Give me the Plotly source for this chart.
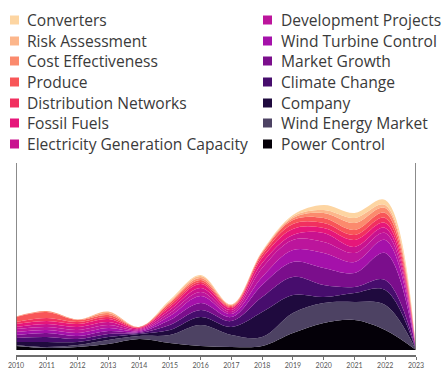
import plotly.graph_objects as go

# Years on the x axis
years = list(range(2010, 2024))

# Series listed from the bottom of the stack to the top
series_names = [
    "Power Control",
    "Wind Energy Market",
    "Company",
    "Climate Change",
    "Market Growth",
    "Wind Turbine Control",
    "Development Projects",
    "Electricity Generation Capacity",
    "Fossil Fuels",
    "Distribution Networks",
    "Produce",
    "Cost Effectiveness",
    "Risk Assessment",
    "Converters",
]

power_control = [4, 2, 3, 6, 11, 7, 4, 3, 4, 17, 27, 30, 20, 0]
wind_energy_market = [1, 1, 2, 4, 3, 8, 21, 12, 9, 20, 20, 18, 25, 0]
company = [3, 5, 3, 3, 2, 5, 8, 8, 25, 18, 6, 9, 15, 0]
climate_change = [4, 5, 3, 3, 1, 5, 7, 6, 15, 18, 12, 6, 10, 0]
market_growth = [3, 4, 3, 3, 1, 5, 7, 4, 12, 15, 17, 14, 27, 0]
wind_turbine_control = [3, 3, 3, 3, 1, 4, 7, 3, 8, 12, 15, 11, 13, 0]
development_projects = [3, 3, 3, 3, 1, 3, 4, 2, 9, 10, 11, 9, 7, 0]
electricity_generation_capacity = [2, 3, 3, 3, 1, 3, 4, 2, 5, 5, 9, 6, 5, 0]
fossil_fuels = [3, 3, 3, 3, 1, 3, 4, 2, 5, 6, 5, 7, 5, 0]
distribution_networks = [2, 3, 2, 2, 0.5, 2, 2, 1, 3, 5, 5, 5, 5, 0]
produce = [5, 6, 2, 2, 0.5, 2, 2, 1, 2, 4, 5, 5, 5, 0]
cost_effectiveness = [0.5, 1, 0.5, 2, 0, 1, 2, 1, 1, 2, 5, 7, 5, 0]
risk_assessment = [0, 0, 0, 1.5, 0, 1, 2, 0.5, 0.5, 1.5, 3, 5, 3, 0]
converters = [0, 0, 0, 0, 0, 1, 1, 0, 0.5, 1.5, 5, 5, 5, 0]

series_values = [
    power_control,
    wind_energy_market,
    company,
    climate_change,
    market_growth,
    wind_turbine_control,
    development_projects,
    electricity_generation_capacity,
    fossil_fuels,
    distribution_networks,
    produce,
    cost_effectiveness,
    risk_assessment,
    converters,
]

series_colors = [
    "#040008",
    "#4d4263",
    "#1f0a3e",
    "#470d6d",
    "#7b0e8c",
    "#a511aa",
    "#bc159c",
    "#c9128f",
    "#e6167a",
    "#f1305f",
    "#f85658",
    "#fb8a6d",
    "#fcb68b",
    "#fdd5a2",
]

# Legend columns (top to bottom)
left_column = [
    "Converters",
    "Risk Assessment",
    "Cost Effectiveness",
    "Produce",
    "Distribution Networks",
    "Fossil Fuels",
    "Electricity Generation Capacity",
]
right_column = [
    "Development Projects",
    "Wind Turbine Control",
    "Market Growth",
    "Climate Change",
    "Company",
    "Wind Energy Market",
    "Power Control",
]

color_of = dict(zip(series_names, series_colors))

W, H = 442, 369
M_L, M_R, M_T, M_B = 16, 26, 163, 14
plot_w = W - M_L - M_R
plot_h = H - M_T - M_B


def px_to_paper_x(px):
    return (px - M_L) / plot_w


def px_to_paper_y(py):
    return (H - M_B - py) / plot_h


fig = go.Figure()

for name, vals, col in zip(series_names, series_values, series_colors):
    fig.add_trace(
        go.Scatter(
            x=years,
            y=vals,
            name=name,
            mode="lines",
            stackgroup="all",
            line=dict(width=0, shape="spline", smoothing=1.0, color=col),
            fillcolor=col,
            showlegend=False,
            hoverinfo="x+y+name",
        )
    )

y_top = 187
axis_color = "#6e6e6e"

shapes = []
annotations = []

# Side axis lines with outward end ticks
for xv, direction in [(years[0], -1), (years[-1], 1)]:
    shapes.append(dict(type="line", xref="x", yref="y", x0=xv, x1=xv, y0=0, y1=y_top,
                       line=dict(color=axis_color, width=1.6)))
    for yv in (0, y_top):
        shapes.append(dict(type="line", xref="x", yref="y", xsizemode="pixel", xanchor=xv,
                           x0=0, x1=5 * direction, y0=yv, y1=yv,
                           line=dict(color=axis_color, width=1.6)))

# Two-column legend: coloured squares with labels
row_centers = [20, 41, 61, 82, 103, 123, 144]
legend_font = dict(family="'Open Sans', sans-serif", size=15.6, color="#3a3a3a")
for column, sq_left, text_left in [(left_column, 10, 27), (right_column, 263, 281)]:
    for name, cy in zip(column, row_centers):
        shapes.append(dict(
            type="rect", xref="paper", yref="paper",
            x0=px_to_paper_x(sq_left), x1=px_to_paper_x(sq_left + 9),
            y0=px_to_paper_y(cy + 4.5), y1=px_to_paper_y(cy - 4.5),
            fillcolor=color_of[name], line=dict(width=0),
        ))
        annotations.append(dict(
            text=name, xref="paper", yref="paper",
            x=px_to_paper_x(text_left), y=px_to_paper_y(cy),
            xanchor="left", yanchor="middle", showarrow=False,
            font=legend_font, xshift=-2,
        ))

fig.update_layout(
    width=W,
    height=H,
    margin=dict(l=M_L, r=M_R, t=M_T, b=M_B),
    paper_bgcolor="white",
    plot_bgcolor="white",
    shapes=shapes,
    annotations=annotations,
    showlegend=False,
    xaxis=dict(
        range=[years[0], years[-1]],
        tickmode="array",
        tickvals=years,
        ticktext=[str(y) for y in years],
        showline=True,
        linecolor=axis_color,
        linewidth=1.6,
        ticks="outside",
        ticklen=3,
        tickcolor=axis_color,
        tickfont=dict(family="Lato, sans-serif", size=7, color="#555555"),
        showgrid=False,
        zeroline=False,
        automargin=False,
        fixedrange=True,
    ),
    yaxis=dict(
        range=[-5, y_top],
        showticklabels=False,
        ticks="",
        showgrid=False,
        zeroline=False,
        showline=False,
        automargin=False,
        fixedrange=True,
    ),
)

fig.write_html("out.html")
